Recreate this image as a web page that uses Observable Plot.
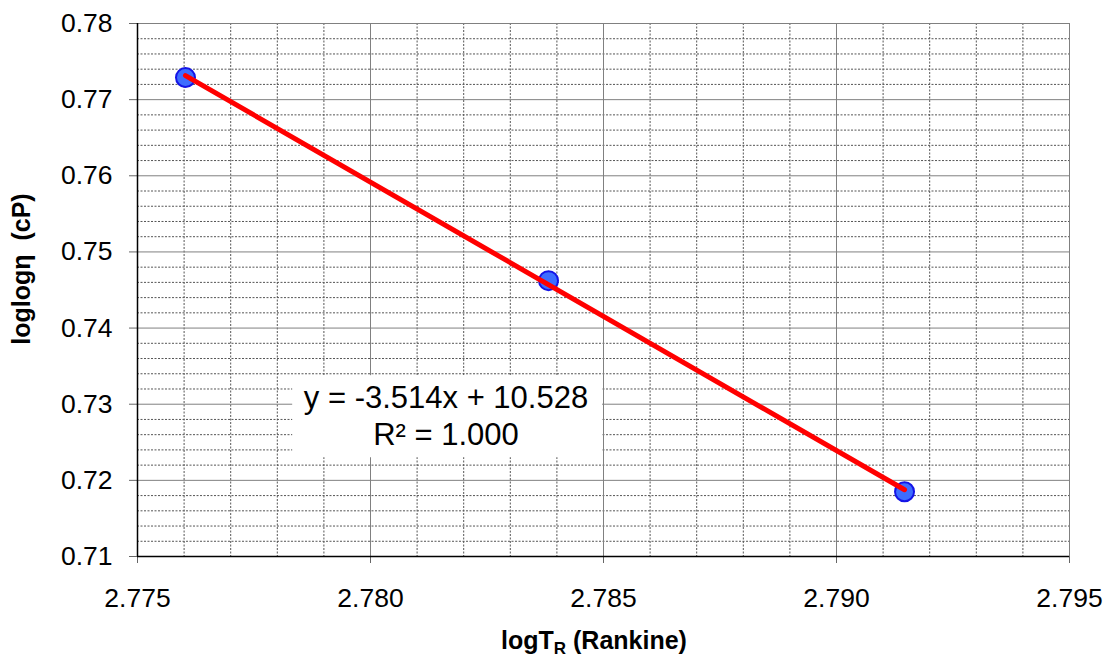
<!DOCTYPE html>
<html>
<head>
<meta charset="utf-8">
<script src="https://cdn.jsdelivr.net/npm/d3@7"></script>
<script src="https://cdn.jsdelivr.net/npm/@observablehq/plot@0.6"></script>
<style>
  html, body { margin: 0; padding: 0; background: #fff; }
  #chart { width: 1107px; height: 657px; }
</style>
</head>
<body>
<div id="chart"></div>
<script>
// Data
const logT = [2.77603, 2.78382, 2.79146];
const loglogEta = [0.7729, 0.74623, 0.7185];

// Ticks / grid
const xTicks = [2.775, 2.780, 2.785, 2.790, 2.795];
const yTicks = [0.71, 0.72, 0.73, 0.74, 0.75, 0.76, 0.77, 0.78];
const xMinor = [2.776, 2.777, 2.778, 2.779, 2.781, 2.782, 2.783, 2.784, 2.786, 2.787, 2.788, 2.789, 2.791, 2.792, 2.793, 2.794];
const yMinor = [0.712, 0.714, 0.716, 0.718, 0.722, 0.724, 0.726, 0.728, 0.732, 0.734, 0.736, 0.738,
                0.742, 0.744, 0.746, 0.748, 0.752, 0.754, 0.756, 0.758, 0.762, 0.764, 0.766, 0.768,
                0.772, 0.774, 0.776, 0.778];

// Trendline annotation
const eqText = "y = -3.514x + 10.528\nR\u00B2 = 1.000";
const eqBox = {x1: 2.77833, x2: 2.78498, y1: 0.72297, y2: 0.73375};
const eqPos = {x: 2.78162, y: 0.72862};

const points = logT.map((x, i) => ({x, y: loglogEta[i]}));

const plot = Plot.plot({
  width: 1107,
  height: 657,
  marginLeft: 137,
  marginRight: 38,
  marginTop: 23,
  marginBottom: 101,
  style: {fontFamily: "'Liberation Sans', Arial, sans-serif", fontSize: "26px", color: "#000", background: "#fff"},
  x: {domain: [2.775, 2.795], axis: null},
  y: {domain: [0.71, 0.78], axis: null},
  marks: [
    Plot.ruleX(xMinor, {stroke: "#555", strokeWidth: 1, strokeDasharray: "2,1.5"}),
    Plot.ruleY(yMinor, {stroke: "#555", strokeWidth: 1, strokeDasharray: "2,1.5"}),
    Plot.ruleX(xTicks, {stroke: "#808080", strokeWidth: 1}),
    Plot.ruleY(yTicks, {stroke: "#808080", strokeWidth: 1}),
    Plot.axisX({ticks: xTicks, tickFormat: d3.format(".3f"), tickSize: 7, tickPadding: 25, fontSize: 26.5, stroke: "#666", label: null}),
    Plot.axisY({ticks: yTicks, tickFormat: d3.format(".2f"), tickSize: 8, tickPadding: 17, fontSize: 26.5, stroke: "#666", label: null}),
    Plot.ruleX([2.775], {stroke: "#000", strokeWidth: 1.5}),
    Plot.ruleY([0.71], {stroke: "#000", strokeWidth: 1.5}),
    Plot.rect([eqBox], {x1: "x1", x2: "x2", y1: "y1", y2: "y2", fill: "#fff"}),
    Plot.text([eqPos], {x: "x", y: "y", text: () => eqText, fontSize: 31, lineHeight: 1.2, fill: "#000", textAnchor: "middle"}),
    Plot.dot(points, {x: "x", y: "y", r: 9.5, fill: "#3d6dff", stroke: "#1414e6", strokeWidth: 2}),
    Plot.linearRegressionY(points, {x: "x", y: "y", stroke: "#ff0000", strokeWidth: 5, ci: 0})
  ]
});

document.getElementById("chart").appendChild(plot);

// Axis titles (with subscript)
const svg = d3.select(plot);
const xt = svg.append("text")
  .attr("x", 594).attr("y", 649)
  .attr("text-anchor", "middle")
  .attr("font-family", "'Liberation Sans', Arial, sans-serif")
  .attr("font-weight", "bold").attr("font-size", 25).attr("fill", "#000");
xt.append("tspan").text("logT");
xt.append("tspan").attr("font-size", 17).attr("dy", 5).text("R");
xt.append("tspan").attr("dy", -5).text(" (Rankine)");

svg.append("text")
  .attr("transform", "translate(30,269) rotate(-90)")
  .attr("text-anchor", "middle")
  .attr("font-family", "'Liberation Sans', Arial, sans-serif")
  .attr("font-weight", "bold").attr("font-size", 25).attr("fill", "#000")
  .attr("xml:space", "preserve")
  .text("loglog\u03B7  (cP)");
</script>
</body>
</html>
